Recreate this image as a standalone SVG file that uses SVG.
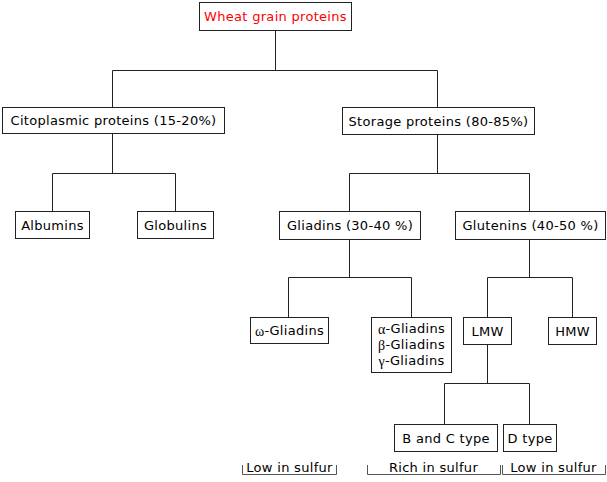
<svg xmlns="http://www.w3.org/2000/svg" width="607" height="482" viewBox="0 0 607 482">
<style>
.box{fill:#fff;stroke:#222;stroke-width:1}
.t{font-family:"DejaVu Sans",Verdana,sans-serif;font-size:13px;letter-spacing:0.3px;fill:#000;text-anchor:middle;dominant-baseline:central}
.g{font-family:"Liberation Serif","DejaVu Serif",serif;font-size:14px}
.red{fill:#ff0000}
.c{fill:none;stroke:#222;stroke-width:1}
.br{fill:none;stroke:#555;stroke-width:1}
</style>
<g id="connectors">
<path class="c" d="M275.5 30V70.5M112.5 70.5H437.5M112.5 70.5V107M437.5 70.5V107"/>
<path class="c" d="M112.5 133V173.5M52.5 173.5H175.5M52.5 173.5V211M175.5 173.5V211"/>
<path class="c" d="M437.5 134V173.5M349.5 173.5H529.5M349.5 173.5V211M529.5 173.5V211"/>
<path class="c" d="M349.5 239V277.5M288.5 277.5H411.5M288.5 277.5V317M411.5 277.5V317"/>
<path class="c" d="M529.5 239V277.5M487.5 277.5H572.5M487.5 277.5V317M572.5 277.5V317"/>
<path class="c" d="M487.5 344V383.5M444.5 383.5H529.5M444.5 383.5V424M529.5 383.5V424"/>
</g>
<g id="n_wheat"><rect class="box" x="199.5" y="2.5" width="152" height="28"/><text class="t red" x="275.5" y="16.5">Wheat grain proteins</text></g>
<g id="n_cito"><rect class="box" x="2.5" y="107.5" width="222" height="26"/><text class="t" x="113.5" y="120.5">Citoplasmic proteins (15-20%)</text></g>
<g id="n_storage"><rect class="box" x="342.5" y="107.5" width="192" height="27"/><text class="t" x="438.5" y="121">Storage proteins (80-85%)</text></g>
<g id="n_albumins"><rect class="box" x="15.5" y="211.5" width="74" height="27"/><text class="t" x="52.5" y="225">Albumins</text></g>
<g id="n_globulins"><rect class="box" x="137.5" y="211.5" width="76" height="27"/><text class="t" x="175.5" y="225">Globulins</text></g>
<g id="n_gliadins"><rect class="box" x="279.5" y="211.5" width="141" height="28"/><text class="t" x="350" y="225.5">Gliadins (30-40 %)</text></g>
<g id="n_glutenins"><rect class="box" x="455.5" y="211.5" width="150" height="28"/><text class="t" x="530.5" y="225.5">Glutenins (40-50 %)</text></g>
<g id="n_omega"><rect class="box" x="250.5" y="317.5" width="78" height="26"/><text class="t" x="289.5" y="330.5"><tspan class="g">ω</tspan>-Gliadins</text></g>
<g id="n_abg"><rect class="box" x="371.5" y="317.5" width="80" height="55"/>
<text class="t" x="411.5" y="328.5"><tspan class="g">α</tspan>-Gliadins</text>
<text class="t" x="411.5" y="344.5"><tspan class="g">β</tspan>-Gliadins</text>
<text class="t" x="411.5" y="360.5"><tspan class="g">γ</tspan>-Gliadins</text></g>
<g id="n_lmw"><rect class="box" x="463.5" y="317.5" width="48" height="27"/><text class="t" x="487.5" y="331">LMW</text></g>
<g id="n_hmw"><rect class="box" x="548.5" y="317.5" width="48" height="27"/><text class="t" x="572.5" y="331">HMW</text></g>
<g id="n_bc"><rect class="box" x="394.5" y="424.5" width="103" height="27"/><text class="t" x="446" y="438">B and C type</text></g>
<g id="n_d"><rect class="box" x="503.5" y="424.5" width="53" height="27"/><text class="t" x="530" y="438">D type</text></g>
<g id="brackets">
<path class="br" d="M242.5 465V474.5H336.5V465"/>
<text class="t" x="289.5" y="467">Low in sulfur</text>
<path class="br" d="M367.5 465V474.5H500.5V465"/>
<text class="t" x="433.5" y="467">Rich in sulfur</text>
<path class="br" d="M502.5 465V474.5H605.5V465"/>
<text class="t" x="553.5" y="467">Low in sulfur</text>
</g>
</svg>
